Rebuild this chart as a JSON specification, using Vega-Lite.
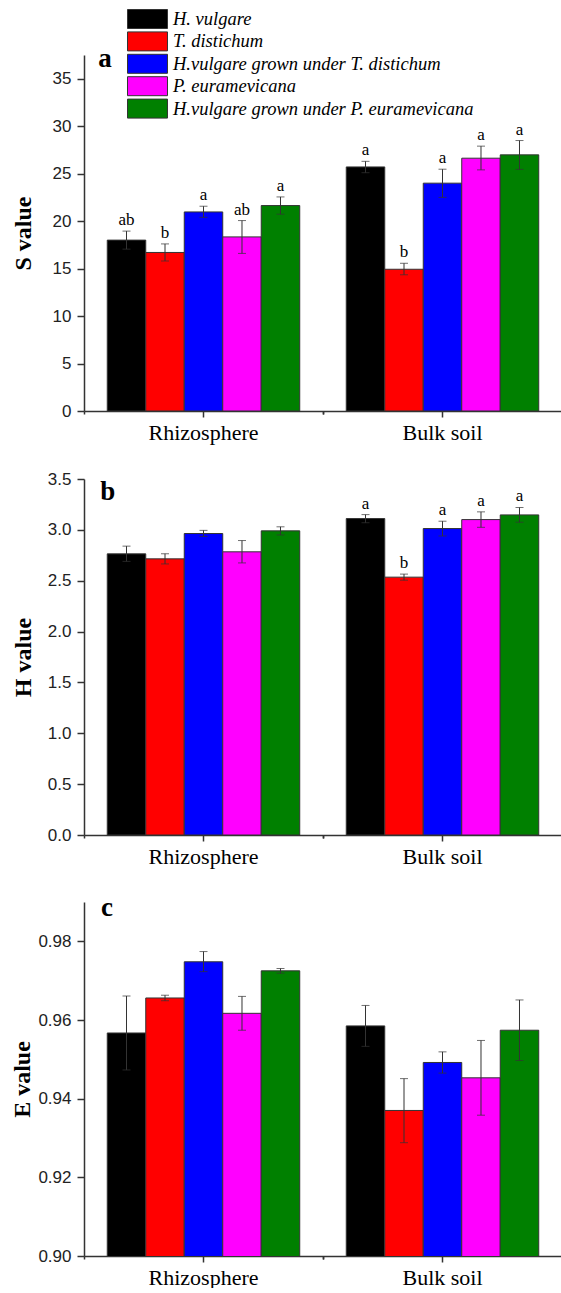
{
  "$schema": "https://vega.github.io/schema/vega-lite/v6.json",
  "padding": {"left": 10, "top": 9, "right": 0, "bottom": 0},
  "background": "white",
  "config": {"view": {"stroke": null}},
  "datasets": {
    "S": [
      {"loc": "Rhizosphere", "sp": "H. vulgare", "v": 18.0, "lo": 17.05, "hi": 18.95, "lab": "ab"},
      {"loc": "Rhizosphere", "sp": "T. distichum", "v": 16.7, "lo": 15.8, "hi": 17.6, "lab": "b"},
      {"loc": "Rhizosphere", "sp": "H.vulgare grown under T. distichum", "v": 20.97, "lo": 20.4, "hi": 21.57, "lab": "a"},
      {"loc": "Rhizosphere", "sp": "P. euramevicana", "v": 18.34, "lo": 16.6, "hi": 20.06, "lab": "ab"},
      {"loc": "Rhizosphere", "sp": "H.vulgare grown under P. euramevicana", "v": 21.64, "lo": 20.73, "hi": 22.55, "lab": "a"},
      {"loc": "Bulk soil", "sp": "H. vulgare", "v": 25.71, "lo": 25.1, "hi": 26.3, "lab": "a"},
      {"loc": "Bulk soil", "sp": "T. distichum", "v": 14.93, "lo": 14.35, "hi": 15.56, "lab": "b"},
      {"loc": "Bulk soil", "sp": "H.vulgare grown under T. distichum", "v": 24.0, "lo": 22.5, "hi": 25.47, "lab": "a"},
      {"loc": "Bulk soil", "sp": "P. euramevicana", "v": 26.63, "lo": 25.4, "hi": 27.9, "lab": "a"},
      {"loc": "Bulk soil", "sp": "H.vulgare grown under P. euramevicana", "v": 26.98, "lo": 25.45, "hi": 28.49, "lab": "a"}
    ],
    "H": [
      {"loc": "Rhizosphere", "sp": "H. vulgare", "v": 2.764, "lo": 2.69, "hi": 2.84, "lab": ""},
      {"loc": "Rhizosphere", "sp": "T. distichum", "v": 2.715, "lo": 2.665, "hi": 2.765, "lab": ""},
      {"loc": "Rhizosphere", "sp": "H.vulgare grown under T. distichum", "v": 2.964, "lo": 2.935, "hi": 2.995, "lab": ""},
      {"loc": "Rhizosphere", "sp": "P. euramevicana", "v": 2.784, "lo": 2.675, "hi": 2.895, "lab": ""},
      {"loc": "Rhizosphere", "sp": "H.vulgare grown under P. euramevicana", "v": 2.99, "lo": 2.95, "hi": 3.03, "lab": ""},
      {"loc": "Bulk soil", "sp": "H. vulgare", "v": 3.111, "lo": 3.07, "hi": 3.15, "lab": "a"},
      {"loc": "Bulk soil", "sp": "T. distichum", "v": 2.535, "lo": 2.505, "hi": 2.565, "lab": "b"},
      {"loc": "Bulk soil", "sp": "H.vulgare grown under T. distichum", "v": 3.013, "lo": 2.94, "hi": 3.085, "lab": "a"},
      {"loc": "Bulk soil", "sp": "P. euramevicana", "v": 3.101, "lo": 3.025, "hi": 3.177, "lab": "a"},
      {"loc": "Bulk soil", "sp": "H.vulgare grown under P. euramevicana", "v": 3.147, "lo": 3.075, "hi": 3.22, "lab": "a"}
    ],
    "E": [
      {"loc": "Rhizosphere", "sp": "H. vulgare", "v": 0.9567, "lo": 0.9473, "hi": 0.9661, "lab": ""},
      {"loc": "Rhizosphere", "sp": "T. distichum", "v": 0.9656, "lo": 0.9649, "hi": 0.9663, "lab": ""},
      {"loc": "Rhizosphere", "sp": "H.vulgare grown under T. distichum", "v": 0.9748, "lo": 0.9723, "hi": 0.9774, "lab": ""},
      {"loc": "Rhizosphere", "sp": "P. euramevicana", "v": 0.9617, "lo": 0.9574, "hi": 0.966, "lab": ""},
      {"loc": "Rhizosphere", "sp": "H.vulgare grown under P. euramevicana", "v": 0.9725, "lo": 0.9719, "hi": 0.9731, "lab": ""},
      {"loc": "Bulk soil", "sp": "H. vulgare", "v": 0.9585, "lo": 0.9533, "hi": 0.9637, "lab": ""},
      {"loc": "Bulk soil", "sp": "T. distichum", "v": 0.937, "lo": 0.9288, "hi": 0.9451, "lab": ""},
      {"loc": "Bulk soil", "sp": "H.vulgare grown under T. distichum", "v": 0.9492, "lo": 0.9465, "hi": 0.9519, "lab": ""},
      {"loc": "Bulk soil", "sp": "P. euramevicana", "v": 0.9453, "lo": 0.9358, "hi": 0.9548, "lab": ""},
      {"loc": "Bulk soil", "sp": "H.vulgare grown under P. euramevicana", "v": 0.9574, "lo": 0.9497, "hi": 0.9651, "lab": ""}
    ]
  },
  "spacing": 27,
  "resolve": {"scale": {"color": "independent"}, "legend": {"color": "independent"}},
  "vconcat": [
    {
      "width": 478, "height": 356,
      "data": {"name": "S"},
      "resolve": {"axis": {"x": "independent"}},
      "encoding": {
        "xOffset": {"field": "sp", "type": "nominal", "sort": ["H. vulgare", "T. distichum", "H.vulgare grown under T. distichum", "P. euramevicana", "H.vulgare grown under P. euramevicana"], "scale": {"paddingInner": 0, "paddingOuter": 0.604}}
      },
      "layer": [
        {
          "mark": {"type": "bar", "stroke": "#333", "strokeWidth": 1},
          "encoding": {
            "x": {"field": "loc", "type": "nominal", "sort": ["Rhizosphere", "Bulk soil"], "scale": {"paddingInner": 0, "paddingOuter": 0},
              "axis": {"orient": "bottom", "title": null, "labelAngle": 0, "labelFont": "Liberation Serif", "labelFontSize": 22, "labelColor": "#000", "tickSize": 6, "labelPadding": 5, "domainColor": "#333", "domainWidth": 1.5, "tickColor": "#333", "tickWidth": 1.5}},
            "y": {"field": "v", "type": "quantitative", "scale": {"domain": [0, 37.5], "nice": false},
              "axis": {"title": "S value", "values": [0, 2.5, 5, 7.5, 10, 12.5, 15, 17.5, 20, 22.5, 25, 27.5, 30, 32.5, 35, 37.5], "labelExpr": "datum.value % 5 === 0 ? format(datum.value, 'd') : ''", "labelOverlap": false, "tickSize": {"condition": {"test": "datum.value % 5 === 0", "value": 7}, "value": 4}, "grid": false, "domainColor": "#333", "domainWidth": 1.5, "tickColor": "#333", "tickWidth": 1.5, "labelFont": "Liberation Sans", "labelFontSize": 17, "labelColor": "#222", "labelPadding": 6, "titleFont": "Liberation Serif", "titleFontSize": 24, "titleFontWeight": "bold", "titleColor": "#000", "titlePadding": 17}},
            "color": {"field": "sp", "type": "nominal", "sort": ["H. vulgare", "T. distichum", "H.vulgare grown under T. distichum", "P. euramevicana", "H.vulgare grown under P. euramevicana"],
              "scale": {"domain": ["H. vulgare", "T. distichum", "H.vulgare grown under T. distichum", "P. euramevicana", "H.vulgare grown under P. euramevicana"], "range": ["#000000", "#ff0000", "#0000ff", "#ff00ff", "#008000"]},
              "legend": {"orient": "none", "legendX": 53.5, "legendY": -46, "title": null, "symbolType": "M-2.105,-1L2.105,-1L2.105,1L-2.105,1Z", "symbolSize": 361, "symbolStrokeColor": "#333", "symbolStrokeWidth": 1, "symbolOpacity": 1, "labelFont": "Liberation Serif", "labelFontSize": 18.5, "labelFontStyle": "italic", "labelColor": "#000", "labelOffset": 15.5, "rowPadding": -1.6, "labelLimit": 0, "padding": 0}}
          }
        },
        {
          "mark": {"type": "rule", "color": "#333", "strokeWidth": 1},
          "encoding": {
            "x": {"field": "loc", "type": "nominal", "sort": ["Rhizosphere", "Bulk soil"], "axis": {"orient": "bottom", "bandPosition": 0, "labels": false, "title": null, "tickSize": 3, "domain": false, "tickColor": "#333", "tickWidth": 1.5}},
            "y": {"field": "lo", "type": "quantitative"},
            "y2": {"field": "hi"}
          }
        },
        {
          "mark": {"type": "tick", "color": "#333", "size": 8, "thickness": 1},
          "encoding": {
            "x": {"field": "loc", "type": "nominal", "sort": ["Rhizosphere", "Bulk soil"], "axis": {"orient": "bottom", "bandPosition": 1, "labels": false, "title": null, "tickSize": 3, "domain": false, "tickColor": "#333", "tickWidth": 1.5}},
            "y": {"field": "lo", "type": "quantitative"}
          }
        },
        {
          "mark": {"type": "tick", "color": "#333", "size": 8, "thickness": 1},
          "encoding": {
            "x": {"field": "loc", "type": "nominal", "sort": ["Rhizosphere", "Bulk soil"], "axis": null},
            "y": {"field": "hi", "type": "quantitative"}
          }
        },
        {
          "mark": {"type": "text", "font": "Liberation Serif", "fontSize": 17, "dy": -6, "baseline": "alphabetic", "color": "#000"},
          "encoding": {
            "x": {"field": "loc", "type": "nominal", "sort": ["Rhizosphere", "Bulk soil"], "axis": null},
            "y": {"field": "hi", "type": "quantitative"},
            "text": {"field": "lab"}
          }
        },
        {
          "transform": [{"filter": "datum.loc === 'Rhizosphere' && datum.sp === 'H. vulgare'"}],
          "mark": {"type": "text", "text": "a", "font": "Liberation Serif", "fontSize": 27, "fontWeight": "bold", "align": "center", "baseline": "alphabetic", "dx": -21.6, "dy": 11.6, "color": "#000"},
          "encoding": {
            "x": {"datum": "Rhizosphere", "type": "nominal", "axis": null},
            "xOffset": {"datum": "H. vulgare", "type": "nominal"},
            "y": {"datum": 37.5, "type": "quantitative"}
          }
        }
      ]
    },
    {
      "width": 478, "height": 356,
      "data": {"name": "H"},
      "resolve": {"axis": {"x": "independent"}},
      "encoding": {
        "xOffset": {"field": "sp", "type": "nominal", "sort": ["H. vulgare", "T. distichum", "H.vulgare grown under T. distichum", "P. euramevicana", "H.vulgare grown under P. euramevicana"], "scale": {"paddingInner": 0, "paddingOuter": 0.604}}
      },
      "layer": [
        {
          "mark": {"type": "bar", "stroke": "#333", "strokeWidth": 1},
          "encoding": {
            "x": {"field": "loc", "type": "nominal", "sort": ["Rhizosphere", "Bulk soil"], "scale": {"paddingInner": 0, "paddingOuter": 0},
              "axis": {"orient": "bottom", "title": null, "labelAngle": 0, "labelFont": "Liberation Serif", "labelFontSize": 22, "labelColor": "#000", "tickSize": 6, "labelPadding": 5, "domainColor": "#333", "domainWidth": 1.5, "tickColor": "#333", "tickWidth": 1.5}},
            "y": {"field": "v", "type": "quantitative", "scale": {"domain": [0, 3.5], "nice": false},
              "axis": {"title": "H value", "values": [0, 0.25, 0.5, 0.75, 1, 1.25, 1.5, 1.75, 2, 2.25, 2.5, 2.75, 3, 3.25, 3.5], "labelExpr": "round(datum.value * 4) % 2 === 0 ? format(datum.value, '.1f') : ''", "labelOverlap": false, "tickSize": {"condition": {"test": "round(datum.value * 4) % 2 === 0", "value": 7}, "value": 4}, "grid": false, "domainColor": "#333", "domainWidth": 1.5, "tickColor": "#333", "tickWidth": 1.5, "labelFont": "Liberation Sans", "labelFontSize": 17, "labelColor": "#222", "labelPadding": 6, "titleFont": "Liberation Serif", "titleFontSize": 24, "titleFontWeight": "bold", "titleColor": "#000", "titlePadding": 12}},
            "color": {"field": "sp", "type": "nominal",
              "scale": {"domain": ["H. vulgare", "T. distichum", "H.vulgare grown under T. distichum", "P. euramevicana", "H.vulgare grown under P. euramevicana"], "range": ["#000000", "#ff0000", "#0000ff", "#ff00ff", "#008000"]},
              "legend": null}
          }
        },
        {
          "mark": {"type": "rule", "color": "#333", "strokeWidth": 1},
          "encoding": {
            "x": {"field": "loc", "type": "nominal", "sort": ["Rhizosphere", "Bulk soil"], "axis": {"orient": "bottom", "bandPosition": 0, "labels": false, "title": null, "tickSize": 3, "domain": false, "tickColor": "#333", "tickWidth": 1.5}},
            "y": {"field": "lo", "type": "quantitative"},
            "y2": {"field": "hi"}
          }
        },
        {
          "mark": {"type": "tick", "color": "#333", "size": 8, "thickness": 1},
          "encoding": {
            "x": {"field": "loc", "type": "nominal", "sort": ["Rhizosphere", "Bulk soil"], "axis": {"orient": "bottom", "bandPosition": 1, "labels": false, "title": null, "tickSize": 3, "domain": false, "tickColor": "#333", "tickWidth": 1.5}},
            "y": {"field": "lo", "type": "quantitative"}
          }
        },
        {
          "mark": {"type": "tick", "color": "#333", "size": 8, "thickness": 1},
          "encoding": {
            "x": {"field": "loc", "type": "nominal", "sort": ["Rhizosphere", "Bulk soil"], "axis": null},
            "y": {"field": "hi", "type": "quantitative"}
          }
        },
        {
          "mark": {"type": "text", "font": "Liberation Serif", "fontSize": 17, "dy": -6, "baseline": "alphabetic", "color": "#000"},
          "encoding": {
            "x": {"field": "loc", "type": "nominal", "sort": ["Rhizosphere", "Bulk soil"], "axis": null},
            "y": {"field": "hi", "type": "quantitative"},
            "text": {"field": "lab"}
          }
        },
        {
          "transform": [{"filter": "datum.loc === 'Rhizosphere' && datum.sp === 'H. vulgare'"}],
          "mark": {"type": "text", "text": "b", "font": "Liberation Serif", "fontSize": 27, "fontWeight": "bold", "align": "center", "baseline": "alphabetic", "dx": -18.7, "dy": 21, "color": "#000"},
          "encoding": {
            "x": {"datum": "Rhizosphere", "type": "nominal", "axis": null},
            "xOffset": {"datum": "H. vulgare", "type": "nominal"},
            "y": {"datum": 3.5, "type": "quantitative"}
          }
        }
      ]
    },
    {
      "width": 478, "height": 354,
      "data": {"name": "E"},
      "resolve": {"axis": {"x": "independent"}},
      "encoding": {
        "xOffset": {"field": "sp", "type": "nominal", "sort": ["H. vulgare", "T. distichum", "H.vulgare grown under T. distichum", "P. euramevicana", "H.vulgare grown under P. euramevicana"], "scale": {"paddingInner": 0, "paddingOuter": 0.604}}
      },
      "layer": [
        {
          "mark": {"type": "bar", "stroke": "#333", "strokeWidth": 1, "clip": true},
          "encoding": {
            "x": {"field": "loc", "type": "nominal", "sort": ["Rhizosphere", "Bulk soil"], "scale": {"paddingInner": 0, "paddingOuter": 0},
              "axis": {"orient": "bottom", "title": null, "labelAngle": 0, "labelFont": "Liberation Serif", "labelFontSize": 22, "labelColor": "#000", "tickSize": 6, "labelPadding": 5, "domainColor": "#333", "domainWidth": 1.5, "tickColor": "#333", "tickWidth": 1.5}},
            "y": {"field": "v", "type": "quantitative", "scale": {"domain": [0.9, 0.99], "nice": false, "zero": false},
              "axis": {"title": "E value", "values": [0.9, 0.91, 0.92, 0.93, 0.94, 0.95, 0.96, 0.97, 0.98, 0.99], "labelExpr": "round(datum.value * 100) % 2 === 0 ? format(datum.value, '.2f') : ''", "labelOverlap": false, "tickSize": {"condition": {"test": "round(datum.value * 100) % 2 === 0", "value": 7}, "value": 4}, "grid": false, "domainColor": "#333", "domainWidth": 1.5, "tickColor": "#333", "tickWidth": 1.5, "labelFont": "Liberation Sans", "labelFontSize": 17, "labelColor": "#222", "labelPadding": 6, "titleFont": "Liberation Serif", "titleFontSize": 24, "titleFontWeight": "bold", "titleColor": "#000", "titlePadding": 3}},
            "color": {"field": "sp", "type": "nominal",
              "scale": {"domain": ["H. vulgare", "T. distichum", "H.vulgare grown under T. distichum", "P. euramevicana", "H.vulgare grown under P. euramevicana"], "range": ["#000000", "#ff0000", "#0000ff", "#ff00ff", "#008000"]},
              "legend": null}
          }
        },
        {
          "mark": {"type": "rule", "color": "#333", "strokeWidth": 1},
          "encoding": {
            "x": {"field": "loc", "type": "nominal", "sort": ["Rhizosphere", "Bulk soil"], "axis": {"orient": "bottom", "bandPosition": 0, "labels": false, "title": null, "tickSize": 3, "domain": false, "tickColor": "#333", "tickWidth": 1.5}},
            "y": {"field": "lo", "type": "quantitative"},
            "y2": {"field": "hi"}
          }
        },
        {
          "mark": {"type": "tick", "color": "#333", "size": 8, "thickness": 1},
          "encoding": {
            "x": {"field": "loc", "type": "nominal", "sort": ["Rhizosphere", "Bulk soil"], "axis": {"orient": "bottom", "bandPosition": 1, "labels": false, "title": null, "tickSize": 3, "domain": false, "tickColor": "#333", "tickWidth": 1.5}},
            "y": {"field": "lo", "type": "quantitative"}
          }
        },
        {
          "mark": {"type": "tick", "color": "#333", "size": 8, "thickness": 1},
          "encoding": {
            "x": {"field": "loc", "type": "nominal", "sort": ["Rhizosphere", "Bulk soil"], "axis": null},
            "y": {"field": "hi", "type": "quantitative"}
          }
        },
        {
          "transform": [{"filter": "datum.loc === 'Rhizosphere' && datum.sp === 'H. vulgare'"}],
          "mark": {"type": "text", "text": "c", "font": "Liberation Serif", "fontSize": 27, "fontWeight": "bold", "align": "center", "baseline": "alphabetic", "dx": -19.5, "dy": 14, "color": "#000"},
          "encoding": {
            "x": {"datum": "Rhizosphere", "type": "nominal", "axis": null},
            "xOffset": {"datum": "H. vulgare", "type": "nominal"},
            "y": {"datum": 0.99, "type": "quantitative"}
          }
        }
      ]
    }
  ]
}
